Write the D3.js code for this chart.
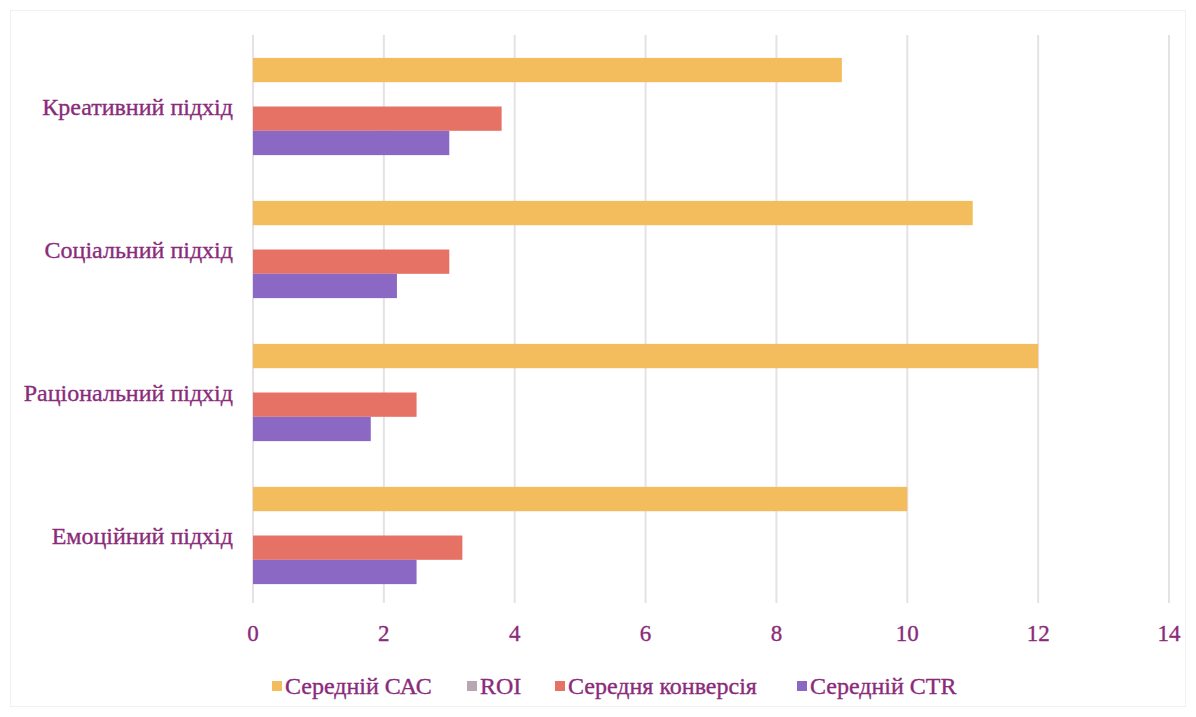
<!DOCTYPE html>
<html>
<head>
<meta charset="utf-8">
<script src="https://cdn.jsdelivr.net/npm/d3@7"></script>
<style>
  body { margin: 0; background: #fff; }
  text { font-family: 'Liberation Serif', 'Times New Roman', serif; fill: #8a2b7a; stroke: #8a2b7a; stroke-width: 0.35px; }
</style>
</head>
<body>
<div id="chart"></div>
<script>
// --- Data ---
const categories = ['Креативний підхід', 'Соціальний підхід', 'Раціональний підхід', 'Емоційний підхід'];
const seriesNames = ['Середній САС', 'ROI', 'Середня конверсія', 'Середній CTR'];
const cacValues = [9, 11, 12, 10];
const roiValues = [0, 0, 0, 0];
const convValues = [3.8, 3.0, 2.5, 3.2];
const ctrValues = [3.0, 2.2, 1.8, 2.5];
const xTicks = [0, 2, 4, 6, 8, 10, 12, 14];
const colors = ['#f3bd5e', '#b9a6b3', '#e67266', '#8b68c4'];

const seriesValues = [cacValues, roiValues, convValues, ctrValues];

const W = 1196, H = 717;
const margin = {top: 35, right: 27, bottom: 110, left: 253};
const width = W - margin.left - margin.right;
const height = H - margin.top - margin.bottom;

const svg = d3.select('#chart').append('svg')
    .attr('width', W).attr('height', H);

// faint frame
svg.append('rect')
    .attr('x', 10.5).attr('y', 10.5)
    .attr('width', W - 21).attr('height', H - 21)
    .attr('fill', 'none').attr('stroke', '#f4eff4');

const g = svg.append('g')
    .attr('transform', `translate(${margin.left},${margin.top})`);

const x = d3.scaleLinear().domain([0, 14]).range([0, 916]);
const y0 = d3.scaleBand().domain(categories).range([0, height])
    .paddingInner(0.32).paddingOuter(0.16);
const y1 = d3.scaleBand().domain(seriesNames).range([0, y0.bandwidth()]);

// Gridlines
g.selectAll('.grid').data(xTicks).enter().append('line')
    .attr('x1', d => x(d)).attr('x2', d => x(d))
    .attr('y1', 0).attr('y2', height - 4)
    .attr('stroke', '#e6e1e6').attr('stroke-width', 2);

// Bars
categories.forEach((cat, ci) => {
    seriesNames.forEach((s, si) => {
        const v = seriesValues[si][ci];
        if (v <= 0) return;
        g.append('rect')
            .attr('x', x(0))
            .attr('y', y0(cat) + y1(s))
            .attr('width', x(v) - x(0))
            .attr('height', y1.bandwidth())
            .attr('fill', colors[si]);
    });
});

// Category labels
g.selectAll('.cat').data(categories).enter().append('text')
    .attr('x', -20)
    .attr('y', d => y0(d) + y0.bandwidth() / 2)
    .attr('dy', '0.35em')
    .attr('text-anchor', 'end')
    .style('font-size', '24px')
    .text(d => d);

// X axis tick labels
g.selectAll('.tick-label').data(xTicks).enter().append('text')
    .attr('x', d => x(d))
    .attr('y', height + 26)
    .attr('dy', '0.35em')
    .attr('text-anchor', 'middle')
    .style('font-size', '23px')
    .text(d => d);

// Legend
const legendX = [272, 467, 555, 797];
const legend = svg.append('g').attr('transform', 'translate(0,686)');
seriesNames.forEach((s, i) => {
    legend.append('rect')
        .attr('x', legendX[i]).attr('y', -5)
        .attr('width', 10).attr('height', 10)
        .attr('fill', colors[i]);
    legend.append('text')
        .attr('x', legendX[i] + 13).attr('y', 0)
        .attr('dy', '0.35em')
        .style('font-size', '24px')
        .text(s);
});
</script>
</body>
</html>
